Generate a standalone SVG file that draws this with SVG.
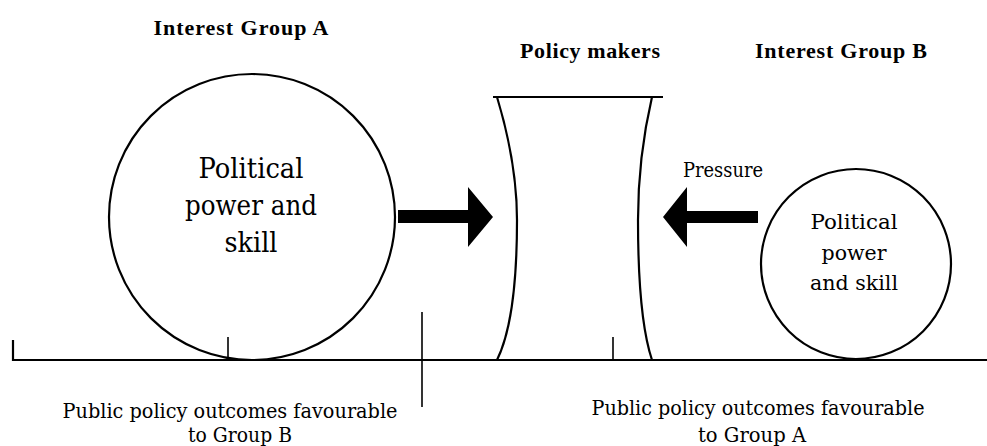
<svg xmlns="http://www.w3.org/2000/svg" width="987" height="446" viewBox="0 0 987 446">
<style>
.ln{fill:none;stroke:#000;stroke-width:2.2;stroke-linecap:butt}
.thin{fill:none;stroke:#000;stroke-width:1.6}
text{font-family:"Liberation Serif","DejaVu Serif",serif;fill:#000;text-anchor:middle}
.title{font-weight:bold;font-size:22px}
.lbl{font-family:"DejaVu Serif","Liberation Serif",serif;font-size:20px}
.big{font-family:"DejaVu Serif","Liberation Serif",serif;font-size:27px}
.mid{font-family:"DejaVu Serif","Liberation Serif",serif;font-size:21px}
.arr{fill:#000;stroke:none}
</style>
<rect width="987" height="446" fill="#fff"/>
<g id="ground">
<path class="ln" d="M13,340 L13,360 L987,360"/>
<line class="thin" x1="228" y1="337" x2="228" y2="360"/>
<line class="thin" x1="613" y1="337" x2="613" y2="360"/>
<line class="thin" x1="422" y1="312" x2="422" y2="407"/>
</g>
<g id="groupA">
<text class="title" x="241" y="35" textLength="175" lengthAdjust="spacing">Interest Group A</text>
<circle class="ln" cx="252" cy="217" r="143"/>
<text class="big" x="251" y="178" textLength="105" lengthAdjust="spacingAndGlyphs">Political</text>
<text class="big" x="251" y="215" textLength="132" lengthAdjust="spacingAndGlyphs">power and</text>
<text class="big" x="251" y="252" textLength="53" lengthAdjust="spacingAndGlyphs">skill</text>
</g>
<g id="policymakers">
<text class="title" x="590" y="58" textLength="140" lengthAdjust="spacing">Policy makers</text>
<line class="ln" x1="493" y1="97" x2="663" y2="97"/>
<path class="ln" d="M497,97 C510,140 517,180 517,220 C517,280 512,330 497,360"/>
<path class="ln" d="M652,97 C642,140 638,180 638,220 C638,280 642,330 652,360"/>
</g>
<g id="groupB">
<text class="title" x="841" y="58" textLength="172" lengthAdjust="spacing">Interest Group B</text>
<circle class="ln" cx="856" cy="264" r="95"/>
<text class="mid" x="854" y="229" textLength="87" lengthAdjust="spacingAndGlyphs">Political</text>
<text class="mid" x="854" y="260" textLength="65" lengthAdjust="spacingAndGlyphs">power</text>
<text class="mid" x="854" y="290" textLength="88" lengthAdjust="spacingAndGlyphs">and skill</text>
</g>
<g id="connectors">
<path class="arr" d="M398,210 L468,210 L468,187 L493,217 L468,247 L468,223 L398,223 Z"/>
<path class="arr" d="M758,211 L687,211 L687,187 L663,217 L687,247 L687,223 L758,223 Z"/>
<text class="lbl" x="723" y="177" textLength="80" lengthAdjust="spacingAndGlyphs">Pressure</text>
</g>
<g id="outcomes">
<text class="lbl" x="230" y="418" textLength="335" lengthAdjust="spacingAndGlyphs">Public policy outcomes favourable</text>
<text class="lbl" x="240" y="442" textLength="104" lengthAdjust="spacingAndGlyphs">to Group B</text>
<text class="lbl" x="758" y="415" textLength="333" lengthAdjust="spacingAndGlyphs">Public policy outcomes favourable</text>
<text class="lbl" x="752" y="442" textLength="108" lengthAdjust="spacingAndGlyphs">to Group A</text>
</g>
</svg>
